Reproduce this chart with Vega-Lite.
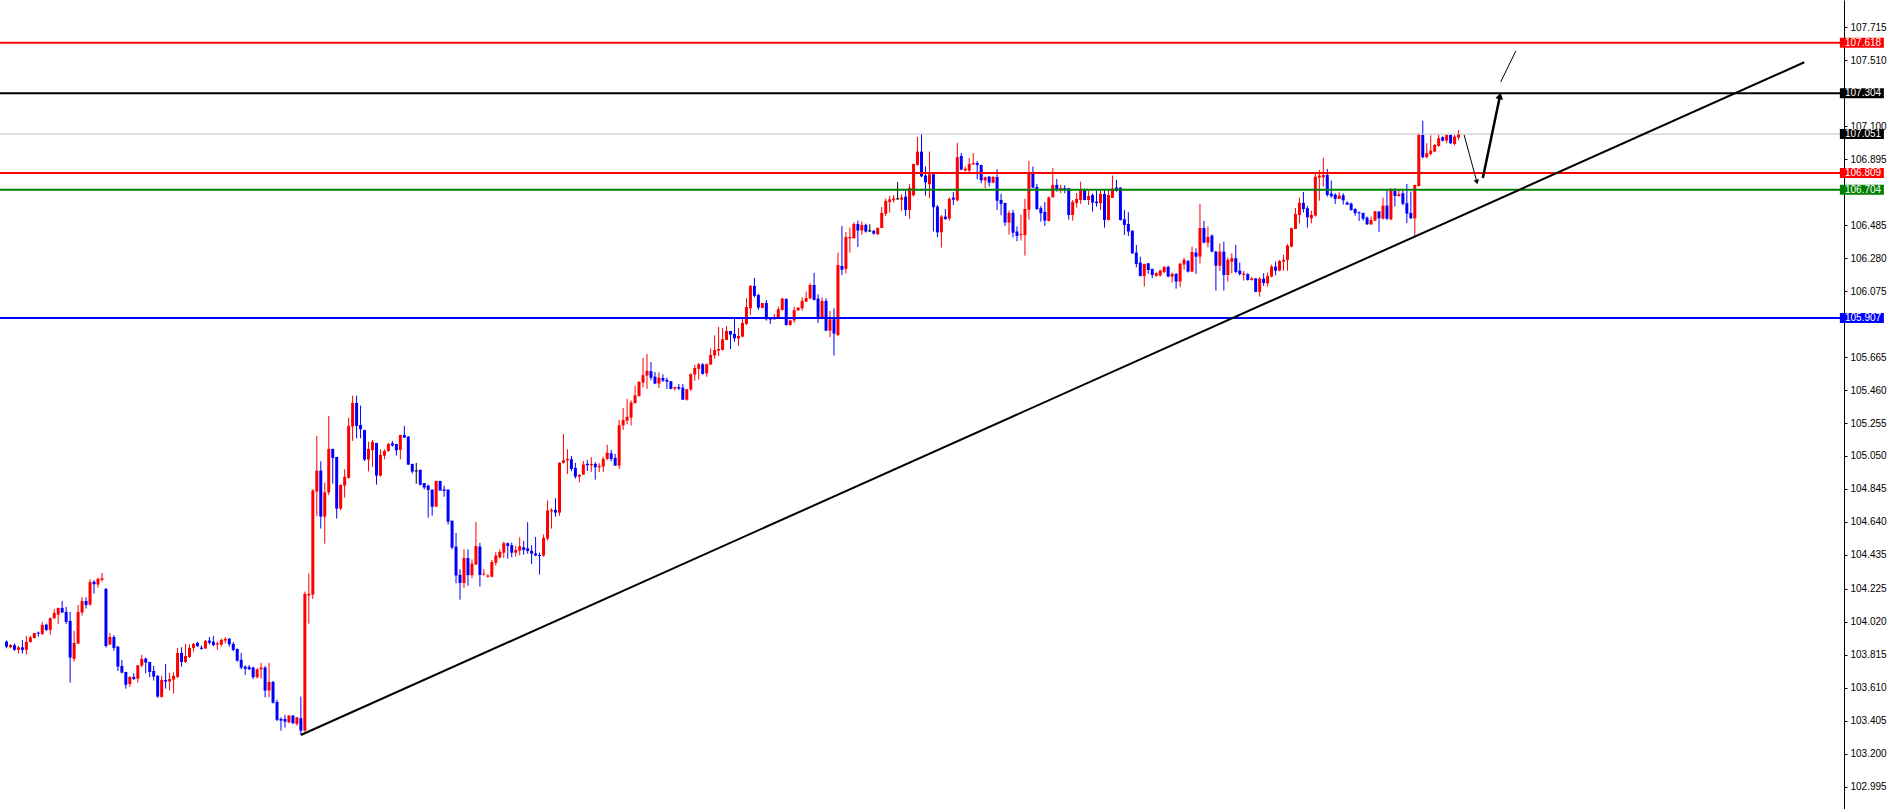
{
"$schema":"https://vega.github.io/schema/vega-lite/v6.json",
"width":1844,"height":809,"padding":{"left":0,"top":0,"right":45,"bottom":0},"autosize":{"type":"none"},
"background":"#ffffff",
"config":{"view":{"stroke":null},"axis":{"grid":false},
 "axisY":{"orient":"right","title":null,"format":".3f","domainColor":"#000000","domainWidth":1,"tickColor":"#000000","tickSize":3,"tickWidth":1,"labelColor":"#000000","labelFont":"Liberation Sans","labelFontSize":10,"labelPadding":3,"labelOverlap":false,"labelFlush":false,"grid":false,"zindex":0}},
"resolve":{"axis":{"y":"independent"}},
"datasets":{
"candles":[
{"i":0,"o":103.896,"h":103.903,"l":103.855,"c":103.865},
{"i":1,"o":103.861,"h":103.880,"l":103.855,"c":103.876},
{"i":2,"o":103.874,"h":103.886,"l":103.840,"c":103.845},
{"i":3,"o":103.845,"h":103.869,"l":103.822,"c":103.861},
{"i":4,"o":103.861,"h":103.907,"l":103.822,"c":103.845},
{"i":5,"o":103.845,"h":103.932,"l":103.816,"c":103.894},
{"i":6,"o":103.894,"h":103.932,"l":103.890,"c":103.923},
{"i":7,"o":103.919,"h":103.950,"l":103.915,"c":103.950},
{"i":8,"o":103.952,"h":103.959,"l":103.928,"c":103.946},
{"i":9,"o":103.944,"h":104.019,"l":103.938,"c":104.000},
{"i":10,"o":104.002,"h":104.008,"l":103.961,"c":103.969},
{"i":11,"o":103.969,"h":104.046,"l":103.940,"c":104.042},
{"i":12,"o":104.042,"h":104.100,"l":104.037,"c":104.075},
{"i":13,"o":104.064,"h":104.106,"l":104.006,"c":104.106},
{"i":14,"o":104.106,"h":104.149,"l":104.077,"c":104.077},
{"i":15,"o":104.081,"h":104.112,"l":104.006,"c":104.019},
{"i":16,"o":104.025,"h":104.081,"l":103.642,"c":103.797},
{"i":17,"o":103.789,"h":103.963,"l":103.772,"c":103.888},
{"i":18,"o":103.884,"h":104.124,"l":103.884,"c":104.081},
{"i":19,"o":104.077,"h":104.172,"l":104.058,"c":104.149},
{"i":20,"o":104.149,"h":104.172,"l":104.102,"c":104.124},
{"i":21,"o":104.126,"h":104.284,"l":104.120,"c":104.267},
{"i":22,"o":104.269,"h":104.278,"l":104.195,"c":104.253},
{"i":23,"o":104.251,"h":104.294,"l":104.232,"c":104.286},
{"i":24,"o":104.280,"h":104.323,"l":104.269,"c":104.290},
{"i":25,"o":104.224,"h":104.230,"l":103.859,"c":103.869},
{"i":26,"o":103.878,"h":103.950,"l":103.878,"c":103.925},
{"i":27,"o":103.925,"h":103.936,"l":103.840,"c":103.857},
{"i":28,"o":103.865,"h":103.869,"l":103.714,"c":103.741},
{"i":29,"o":103.745,"h":103.783,"l":103.698,"c":103.704},
{"i":30,"o":103.708,"h":103.708,"l":103.604,"c":103.629},
{"i":31,"o":103.633,"h":103.681,"l":103.615,"c":103.677},
{"i":32,"o":103.677,"h":103.700,"l":103.658,"c":103.664},
{"i":33,"o":103.666,"h":103.749,"l":103.642,"c":103.749},
{"i":34,"o":103.747,"h":103.814,"l":103.737,"c":103.789},
{"i":35,"o":103.791,"h":103.797,"l":103.700,"c":103.766},
{"i":36,"o":103.770,"h":103.770,"l":103.675,"c":103.708},
{"i":37,"o":103.714,"h":103.745,"l":103.654,"c":103.679},
{"i":38,"o":103.683,"h":103.689,"l":103.548,"c":103.555},
{"i":39,"o":103.553,"h":103.683,"l":103.548,"c":103.658},
{"i":40,"o":103.658,"h":103.758,"l":103.604,"c":103.648},
{"i":41,"o":103.648,"h":103.702,"l":103.592,"c":103.664},
{"i":42,"o":103.660,"h":103.706,"l":103.573,"c":103.683},
{"i":43,"o":103.677,"h":103.857,"l":103.669,"c":103.826},
{"i":44,"o":103.826,"h":103.861,"l":103.741,"c":103.770},
{"i":45,"o":103.770,"h":103.882,"l":103.764,"c":103.807},
{"i":46,"o":103.801,"h":103.878,"l":103.795,"c":103.857},
{"i":47,"o":103.857,"h":103.888,"l":103.834,"c":103.882},
{"i":48,"o":103.888,"h":103.896,"l":103.865,"c":103.867},
{"i":49,"o":103.859,"h":103.872,"l":103.847,"c":103.851},
{"i":50,"o":103.853,"h":103.907,"l":103.853,"c":103.901},
{"i":51,"o":103.903,"h":103.925,"l":103.878,"c":103.890},
{"i":52,"o":103.896,"h":103.932,"l":103.869,"c":103.874},
{"i":53,"o":103.878,"h":103.896,"l":103.845,"c":103.886},
{"i":54,"o":103.878,"h":103.915,"l":103.865,"c":103.907},
{"i":55,"o":103.903,"h":103.925,"l":103.886,"c":103.913},
{"i":56,"o":103.915,"h":103.917,"l":103.865,"c":103.880},
{"i":57,"o":103.882,"h":103.894,"l":103.838,"c":103.845},
{"i":58,"o":103.851,"h":103.853,"l":103.772,"c":103.778},
{"i":59,"o":103.783,"h":103.826,"l":103.724,"c":103.735},
{"i":60,"o":103.741,"h":103.749,"l":103.689,"c":103.727},
{"i":61,"o":103.739,"h":103.751,"l":103.720,"c":103.724},
{"i":62,"o":103.735,"h":103.741,"l":103.664,"c":103.675},
{"i":63,"o":103.675,"h":103.731,"l":103.666,"c":103.724},
{"i":64,"o":103.724,"h":103.764,"l":103.666,"c":103.735},
{"i":65,"o":103.735,"h":103.745,"l":103.550,"c":103.592},
{"i":66,"o":103.592,"h":103.764,"l":103.550,"c":103.646},
{"i":67,"o":103.646,"h":103.652,"l":103.511,"c":103.517},
{"i":68,"o":103.521,"h":103.534,"l":103.403,"c":103.410},
{"i":69,"o":103.416,"h":103.426,"l":103.343,"c":103.405},
{"i":70,"o":103.416,"h":103.441,"l":103.362,"c":103.399},
{"i":71,"o":103.395,"h":103.441,"l":103.389,"c":103.436},
{"i":72,"o":103.436,"h":103.441,"l":103.385,"c":103.389},
{"i":73,"o":103.385,"h":103.426,"l":103.374,"c":103.426},
{"i":74,"o":103.420,"h":103.555,"l":103.316,"c":103.343},
{"i":75,"o":103.343,"h":104.207,"l":103.337,"c":104.193},
{"i":76,"o":104.184,"h":104.319,"l":104.008,"c":104.193},
{"i":77,"o":104.189,"h":104.845,"l":104.162,"c":104.835},
{"i":78,"o":104.829,"h":105.175,"l":104.677,"c":104.959},
{"i":79,"o":104.959,"h":105.017,"l":104.599,"c":104.673},
{"i":80,"o":104.673,"h":104.885,"l":104.505,"c":104.824},
{"i":81,"o":104.824,"h":105.299,"l":104.806,"c":105.094},
{"i":82,"o":105.094,"h":105.094,"l":104.878,"c":105.038},
{"i":83,"o":105.044,"h":105.044,"l":104.661,"c":104.723},
{"i":84,"o":104.723,"h":104.874,"l":104.711,"c":104.870},
{"i":85,"o":104.866,"h":104.967,"l":104.791,"c":104.920},
{"i":86,"o":104.914,"h":105.289,"l":104.909,"c":105.237},
{"i":87,"o":105.233,"h":105.425,"l":105.144,"c":105.380},
{"i":88,"o":105.380,"h":105.425,"l":105.160,"c":105.237},
{"i":89,"o":105.243,"h":105.363,"l":105.160,"c":105.216},
{"i":90,"o":105.212,"h":105.212,"l":105.019,"c":105.028},
{"i":91,"o":105.028,"h":105.139,"l":104.953,"c":105.094},
{"i":92,"o":105.086,"h":105.150,"l":104.982,"c":105.137},
{"i":93,"o":105.131,"h":105.131,"l":104.872,"c":104.928},
{"i":94,"o":104.928,"h":105.092,"l":104.922,"c":105.057},
{"i":95,"o":105.052,"h":105.092,"l":105.030,"c":105.081},
{"i":96,"o":105.081,"h":105.131,"l":105.077,"c":105.125},
{"i":97,"o":105.129,"h":105.144,"l":105.108,"c":105.115},
{"i":98,"o":105.125,"h":105.125,"l":105.052,"c":105.086},
{"i":99,"o":105.088,"h":105.181,"l":105.030,"c":105.181},
{"i":100,"o":105.181,"h":105.237,"l":105.164,"c":105.164},
{"i":101,"o":105.170,"h":105.175,"l":104.996,"c":104.996},
{"i":102,"o":105.001,"h":105.001,"l":104.941,"c":104.953},
{"i":103,"o":104.957,"h":105.007,"l":104.878,"c":104.957},
{"i":104,"o":104.963,"h":104.967,"l":104.866,"c":104.872},
{"i":105,"o":104.882,"h":104.882,"l":104.843,"c":104.854},
{"i":106,"o":104.866,"h":104.872,"l":104.667,"c":104.839},
{"i":107,"o":104.841,"h":104.841,"l":104.679,"c":104.735},
{"i":108,"o":104.735,"h":104.895,"l":104.735,"c":104.895},
{"i":109,"o":104.895,"h":104.895,"l":104.835,"c":104.835},
{"i":110,"o":104.841,"h":104.866,"l":104.797,"c":104.837},
{"i":111,"o":104.841,"h":104.841,"l":104.624,"c":104.642},
{"i":112,"o":104.648,"h":104.648,"l":104.470,"c":104.481},
{"i":113,"o":104.487,"h":104.572,"l":104.259,"c":104.307},
{"i":114,"o":104.311,"h":104.346,"l":104.157,"c":104.261},
{"i":115,"o":104.261,"h":104.470,"l":104.230,"c":104.416},
{"i":116,"o":104.416,"h":104.470,"l":104.244,"c":104.309},
{"i":117,"o":104.309,"h":104.408,"l":104.290,"c":104.381},
{"i":118,"o":104.375,"h":104.640,"l":104.375,"c":104.491},
{"i":119,"o":104.487,"h":104.510,"l":104.238,"c":104.311},
{"i":120,"o":104.313,"h":104.346,"l":104.307,"c":104.319},
{"i":121,"o":104.300,"h":104.315,"l":104.294,"c":104.307},
{"i":122,"o":104.300,"h":104.404,"l":104.296,"c":104.391},
{"i":123,"o":104.387,"h":104.452,"l":104.369,"c":104.431},
{"i":124,"o":104.420,"h":104.470,"l":104.412,"c":104.454},
{"i":125,"o":104.449,"h":104.518,"l":104.416,"c":104.508},
{"i":126,"o":104.508,"h":104.512,"l":104.412,"c":104.491},
{"i":127,"o":104.495,"h":104.512,"l":104.420,"c":104.449},
{"i":128,"o":104.449,"h":104.491,"l":104.425,"c":104.466},
{"i":129,"o":104.462,"h":104.545,"l":104.433,"c":104.489},
{"i":130,"o":104.483,"h":104.522,"l":104.437,"c":104.466},
{"i":131,"o":104.476,"h":104.638,"l":104.443,"c":104.460},
{"i":132,"o":104.460,"h":104.495,"l":104.379,"c":104.443},
{"i":133,"o":104.445,"h":104.547,"l":104.427,"c":104.431},
{"i":134,"o":104.435,"h":104.449,"l":104.313,"c":104.431},
{"i":135,"o":104.431,"h":104.563,"l":104.425,"c":104.541},
{"i":136,"o":104.537,"h":104.773,"l":104.524,"c":104.711},
{"i":137,"o":104.706,"h":104.725,"l":104.599,"c":104.715},
{"i":138,"o":104.715,"h":104.787,"l":104.673,"c":104.698},
{"i":139,"o":104.698,"h":105.011,"l":104.679,"c":105.007},
{"i":140,"o":105.007,"h":105.187,"l":105.003,"c":105.023},
{"i":141,"o":105.023,"h":105.092,"l":104.938,"c":105.032},
{"i":142,"o":105.030,"h":105.050,"l":104.955,"c":104.969},
{"i":143,"o":104.976,"h":105.007,"l":104.909,"c":104.922},
{"i":144,"o":104.922,"h":104.938,"l":104.885,"c":104.932},
{"i":145,"o":104.934,"h":105.019,"l":104.934,"c":104.998},
{"i":146,"o":105.001,"h":105.025,"l":104.957,"c":104.992},
{"i":147,"o":104.992,"h":105.042,"l":104.951,"c":105.001},
{"i":148,"o":105.001,"h":105.011,"l":104.903,"c":104.980},
{"i":149,"o":104.980,"h":105.005,"l":104.951,"c":104.988},
{"i":150,"o":104.984,"h":105.046,"l":104.949,"c":105.032},
{"i":151,"o":105.032,"h":105.119,"l":105.025,"c":105.071},
{"i":152,"o":105.067,"h":105.088,"l":105.017,"c":105.032},
{"i":153,"o":105.038,"h":105.063,"l":104.988,"c":104.990},
{"i":154,"o":104.990,"h":105.274,"l":104.969,"c":105.241},
{"i":155,"o":105.241,"h":105.349,"l":105.212,"c":105.274},
{"i":156,"o":105.270,"h":105.405,"l":105.247,"c":105.293},
{"i":157,"o":105.289,"h":105.396,"l":105.239,"c":105.382},
{"i":158,"o":105.378,"h":105.485,"l":105.378,"c":105.427},
{"i":159,"o":105.423,"h":105.516,"l":105.419,"c":105.510},
{"i":160,"o":105.506,"h":105.659,"l":105.477,"c":105.552},
{"i":161,"o":105.550,"h":105.684,"l":105.467,"c":105.579},
{"i":162,"o":105.577,"h":105.634,"l":105.521,"c":105.537},
{"i":163,"o":105.543,"h":105.572,"l":105.496,"c":105.500},
{"i":164,"o":105.500,"h":105.570,"l":105.473,"c":105.537},
{"i":165,"o":105.535,"h":105.558,"l":105.510,"c":105.518},
{"i":166,"o":105.523,"h":105.537,"l":105.467,"c":105.512},
{"i":167,"o":105.514,"h":105.516,"l":105.465,"c":105.467},
{"i":168,"o":105.469,"h":105.479,"l":105.456,"c":105.479},
{"i":169,"o":105.479,"h":105.498,"l":105.460,"c":105.469},
{"i":170,"o":105.475,"h":105.498,"l":105.400,"c":105.400},
{"i":171,"o":105.400,"h":105.467,"l":105.394,"c":105.465},
{"i":172,"o":105.463,"h":105.564,"l":105.456,"c":105.558},
{"i":173,"o":105.556,"h":105.616,"l":105.518,"c":105.597},
{"i":174,"o":105.591,"h":105.628,"l":105.525,"c":105.620},
{"i":175,"o":105.620,"h":105.626,"l":105.556,"c":105.560},
{"i":176,"o":105.564,"h":105.624,"l":105.543,"c":105.620},
{"i":177,"o":105.618,"h":105.719,"l":105.618,"c":105.678},
{"i":178,"o":105.676,"h":105.800,"l":105.655,"c":105.709},
{"i":179,"o":105.705,"h":105.852,"l":105.672,"c":105.715},
{"i":180,"o":105.709,"h":105.846,"l":105.707,"c":105.775},
{"i":181,"o":105.771,"h":105.858,"l":105.771,"c":105.827},
{"i":182,"o":105.827,"h":105.827,"l":105.715,"c":105.804},
{"i":183,"o":105.809,"h":105.910,"l":105.761,"c":105.782},
{"i":184,"o":105.780,"h":105.846,"l":105.736,"c":105.796},
{"i":185,"o":105.792,"h":105.906,"l":105.788,"c":105.877},
{"i":186,"o":105.871,"h":106.030,"l":105.864,"c":105.976},
{"i":187,"o":105.968,"h":106.113,"l":105.927,"c":106.107},
{"i":188,"o":106.107,"h":106.157,"l":106.036,"c":106.045},
{"i":189,"o":106.051,"h":106.059,"l":105.958,"c":105.972},
{"i":190,"o":105.970,"h":106.001,"l":105.968,"c":106.001},
{"i":191,"o":106.001,"h":106.020,"l":105.891,"c":105.900},
{"i":192,"o":105.906,"h":105.914,"l":105.871,"c":105.898},
{"i":193,"o":105.900,"h":105.933,"l":105.896,"c":105.910},
{"i":194,"o":105.910,"h":105.978,"l":105.906,"c":105.962},
{"i":195,"o":105.958,"h":106.034,"l":105.954,"c":106.028},
{"i":196,"o":106.026,"h":106.030,"l":105.860,"c":105.864},
{"i":197,"o":105.864,"h":105.898,"l":105.860,"c":105.893},
{"i":198,"o":105.893,"h":105.978,"l":105.877,"c":105.956},
{"i":199,"o":105.956,"h":105.976,"l":105.951,"c":105.972},
{"i":200,"o":105.968,"h":106.036,"l":105.954,"c":106.014},
{"i":201,"o":106.010,"h":106.072,"l":106.007,"c":106.032},
{"i":202,"o":106.030,"h":106.123,"l":106.024,"c":106.113},
{"i":203,"o":106.113,"h":106.188,"l":106.016,"c":106.020},
{"i":204,"o":106.028,"h":106.055,"l":105.877,"c":105.906},
{"i":205,"o":105.904,"h":106.036,"l":105.900,"c":106.014},
{"i":206,"o":106.014,"h":106.030,"l":105.827,"c":105.829},
{"i":207,"o":105.829,"h":105.951,"l":105.788,"c":105.900},
{"i":208,"o":105.900,"h":105.968,"l":105.674,"c":105.811},
{"i":209,"o":105.802,"h":106.314,"l":105.794,"c":106.237},
{"i":210,"o":106.231,"h":106.480,"l":106.175,"c":106.208},
{"i":211,"o":106.213,"h":106.442,"l":106.184,"c":106.411},
{"i":212,"o":106.403,"h":106.469,"l":106.314,"c":106.411},
{"i":213,"o":106.403,"h":106.503,"l":106.401,"c":106.492},
{"i":214,"o":106.492,"h":106.513,"l":106.349,"c":106.451},
{"i":215,"o":106.451,"h":106.507,"l":106.424,"c":106.486},
{"i":216,"o":106.486,"h":106.494,"l":106.438,"c":106.445},
{"i":217,"o":106.449,"h":106.490,"l":106.442,"c":106.449},
{"i":218,"o":106.449,"h":106.455,"l":106.426,"c":106.432},
{"i":219,"o":106.428,"h":106.472,"l":106.424,"c":106.467},
{"i":220,"o":106.467,"h":106.598,"l":106.467,"c":106.561},
{"i":221,"o":106.556,"h":106.650,"l":106.542,"c":106.635},
{"i":222,"o":106.629,"h":106.666,"l":106.563,"c":106.645},
{"i":223,"o":106.639,"h":106.672,"l":106.625,"c":106.650},
{"i":224,"o":106.648,"h":106.753,"l":106.643,"c":106.648},
{"i":225,"o":106.643,"h":106.677,"l":106.575,"c":106.656},
{"i":226,"o":106.662,"h":106.697,"l":106.542,"c":106.579},
{"i":227,"o":106.579,"h":106.739,"l":106.523,"c":106.716},
{"i":228,"o":106.670,"h":106.865,"l":106.664,"c":106.865},
{"i":229,"o":106.859,"h":107.033,"l":106.855,"c":106.942},
{"i":230,"o":106.942,"h":107.052,"l":106.782,"c":106.788},
{"i":231,"o":106.793,"h":106.849,"l":106.668,"c":106.751},
{"i":232,"o":106.739,"h":106.942,"l":106.652,"c":106.801},
{"i":233,"o":106.801,"h":106.803,"l":106.445,"c":106.596},
{"i":234,"o":106.600,"h":106.610,"l":106.411,"c":106.440},
{"i":235,"o":106.440,"h":106.548,"l":106.345,"c":106.538},
{"i":236,"o":106.538,"h":106.585,"l":106.517,"c":106.523},
{"i":237,"o":106.525,"h":106.658,"l":106.513,"c":106.648},
{"i":238,"o":106.656,"h":106.691,"l":106.610,"c":106.643},
{"i":239,"o":106.639,"h":106.996,"l":106.633,"c":106.907},
{"i":240,"o":106.915,"h":106.933,"l":106.826,"c":106.830},
{"i":241,"o":106.824,"h":106.849,"l":106.818,"c":106.836},
{"i":242,"o":106.824,"h":106.902,"l":106.807,"c":106.865},
{"i":243,"o":106.863,"h":106.933,"l":106.859,"c":106.871},
{"i":244,"o":106.871,"h":106.884,"l":106.770,"c":106.859},
{"i":245,"o":106.859,"h":106.859,"l":106.745,"c":106.764},
{"i":246,"o":106.762,"h":106.786,"l":106.714,"c":106.782},
{"i":247,"o":106.786,"h":106.791,"l":106.724,"c":106.749},
{"i":248,"o":106.749,"h":106.791,"l":106.745,"c":106.784},
{"i":249,"o":106.784,"h":106.832,"l":106.579,"c":106.637},
{"i":250,"o":106.641,"h":106.679,"l":106.546,"c":106.617},
{"i":251,"o":106.623,"h":106.623,"l":106.480,"c":106.501},
{"i":252,"o":106.501,"h":106.575,"l":106.426,"c":106.561},
{"i":253,"o":106.561,"h":106.579,"l":106.409,"c":106.438},
{"i":254,"o":106.445,"h":106.476,"l":106.385,"c":106.418},
{"i":255,"o":106.424,"h":106.550,"l":106.389,"c":106.430},
{"i":256,"o":106.424,"h":106.648,"l":106.295,"c":106.585},
{"i":257,"o":106.581,"h":106.884,"l":106.519,"c":106.807},
{"i":258,"o":106.807,"h":106.849,"l":106.714,"c":106.718},
{"i":259,"o":106.722,"h":106.741,"l":106.579,"c":106.585},
{"i":260,"o":106.590,"h":106.604,"l":106.507,"c":106.559},
{"i":261,"o":106.567,"h":106.629,"l":106.480,"c":106.513},
{"i":262,"o":106.511,"h":106.662,"l":106.507,"c":106.658},
{"i":263,"o":106.658,"h":106.840,"l":106.656,"c":106.735},
{"i":264,"o":106.735,"h":106.772,"l":106.693,"c":106.708},
{"i":265,"o":106.710,"h":106.735,"l":106.683,"c":106.716},
{"i":266,"o":106.716,"h":106.733,"l":106.683,"c":106.710},
{"i":267,"o":106.714,"h":106.716,"l":106.519,"c":106.548},
{"i":268,"o":106.548,"h":106.641,"l":106.513,"c":106.629},
{"i":269,"o":106.623,"h":106.685,"l":106.594,"c":106.648},
{"i":270,"o":106.641,"h":106.755,"l":106.617,"c":106.704},
{"i":271,"o":106.708,"h":106.712,"l":106.639,"c":106.641},
{"i":272,"o":106.641,"h":106.699,"l":106.610,"c":106.666},
{"i":273,"o":106.672,"h":106.681,"l":106.569,"c":106.625},
{"i":274,"o":106.631,"h":106.701,"l":106.600,"c":106.621},
{"i":275,"o":106.621,"h":106.704,"l":106.579,"c":106.679},
{"i":276,"o":106.679,"h":106.704,"l":106.469,"c":106.517},
{"i":277,"o":106.517,"h":106.704,"l":106.513,"c":106.672},
{"i":278,"o":106.654,"h":106.793,"l":106.654,"c":106.712},
{"i":279,"o":106.718,"h":106.766,"l":106.693,"c":106.697},
{"i":280,"o":106.718,"h":106.720,"l":106.513,"c":106.517},
{"i":281,"o":106.521,"h":106.579,"l":106.424,"c":106.486},
{"i":282,"o":106.492,"h":106.565,"l":106.418,"c":106.445},
{"i":283,"o":106.451,"h":106.451,"l":106.306,"c":106.310},
{"i":284,"o":106.314,"h":106.362,"l":106.223,"c":106.244},
{"i":285,"o":106.252,"h":106.289,"l":106.165,"c":106.169},
{"i":286,"o":106.169,"h":106.244,"l":106.103,"c":106.244},
{"i":287,"o":106.248,"h":106.248,"l":106.182,"c":106.206},
{"i":288,"o":106.213,"h":106.213,"l":106.155,"c":106.175},
{"i":289,"o":106.169,"h":106.192,"l":106.165,"c":106.186},
{"i":290,"o":106.173,"h":106.208,"l":106.165,"c":106.202},
{"i":291,"o":106.194,"h":106.231,"l":106.186,"c":106.225},
{"i":292,"o":106.225,"h":106.233,"l":106.161,"c":106.165},
{"i":293,"o":106.165,"h":106.190,"l":106.128,"c":106.182},
{"i":294,"o":106.182,"h":106.186,"l":106.090,"c":106.134},
{"i":295,"o":106.134,"h":106.252,"l":106.099,"c":106.244},
{"i":296,"o":106.240,"h":106.283,"l":106.206,"c":106.269},
{"i":297,"o":106.262,"h":106.269,"l":106.190,"c":106.196},
{"i":298,"o":106.196,"h":106.351,"l":106.192,"c":106.318},
{"i":299,"o":106.314,"h":106.341,"l":106.182,"c":106.289},
{"i":300,"o":106.289,"h":106.617,"l":106.246,"c":106.467},
{"i":301,"o":106.467,"h":106.511,"l":106.372,"c":106.376},
{"i":302,"o":106.376,"h":106.476,"l":106.347,"c":106.411},
{"i":303,"o":106.420,"h":106.428,"l":106.316,"c":106.320},
{"i":304,"o":106.320,"h":106.324,"l":106.078,"c":106.233},
{"i":305,"o":106.233,"h":106.372,"l":106.200,"c":106.320},
{"i":306,"o":106.320,"h":106.382,"l":106.078,"c":106.175},
{"i":307,"o":106.175,"h":106.283,"l":106.134,"c":106.269},
{"i":308,"o":106.258,"h":106.310,"l":106.186,"c":106.279},
{"i":309,"o":106.279,"h":106.362,"l":106.186,"c":106.194},
{"i":310,"o":106.202,"h":106.252,"l":106.171,"c":106.181},
{"i":311,"o":106.175,"h":106.200,"l":106.140,"c":106.180},
{"i":312,"o":106.180,"h":106.186,"l":106.140,"c":106.144},
{"i":313,"o":106.144,"h":106.161,"l":106.140,"c":106.154},
{"i":314,"o":106.154,"h":106.154,"l":106.070,"c":106.070},
{"i":315,"o":106.070,"h":106.161,"l":106.041,"c":106.152},
{"i":316,"o":106.152,"h":106.186,"l":106.107,"c":106.125},
{"i":317,"o":106.123,"h":106.190,"l":106.103,"c":106.169},
{"i":318,"o":106.165,"h":106.239,"l":106.161,"c":106.227},
{"i":319,"o":106.227,"h":106.258,"l":106.173,"c":106.202},
{"i":320,"o":106.202,"h":106.269,"l":106.198,"c":106.262},
{"i":321,"o":106.258,"h":106.300,"l":106.202,"c":106.269},
{"i":322,"o":106.269,"h":106.366,"l":106.202,"c":106.358},
{"i":323,"o":106.351,"h":106.469,"l":106.347,"c":106.465},
{"i":324,"o":106.461,"h":106.592,"l":106.461,"c":106.554},
{"i":325,"o":106.548,"h":106.656,"l":106.496,"c":106.623},
{"i":326,"o":106.623,"h":106.691,"l":106.563,"c":106.585},
{"i":327,"o":106.590,"h":106.604,"l":106.469,"c":106.534},
{"i":328,"o":106.527,"h":106.575,"l":106.496,"c":106.548},
{"i":329,"o":106.544,"h":106.807,"l":106.538,"c":106.786},
{"i":330,"o":106.780,"h":106.828,"l":106.637,"c":106.793},
{"i":331,"o":106.782,"h":106.904,"l":106.724,"c":106.797},
{"i":332,"o":106.797,"h":106.834,"l":106.662,"c":106.672},
{"i":333,"o":106.681,"h":106.762,"l":106.656,"c":106.664},
{"i":334,"o":106.675,"h":106.683,"l":106.617,"c":106.648},
{"i":335,"o":106.648,"h":106.689,"l":106.648,"c":106.668},
{"i":336,"o":106.670,"h":106.683,"l":106.612,"c":106.639},
{"i":337,"o":106.625,"h":106.633,"l":106.612,"c":106.612},
{"i":338,"o":106.619,"h":106.625,"l":106.575,"c":106.579},
{"i":339,"o":106.585,"h":106.590,"l":106.544,"c":106.559},
{"i":340,"o":106.565,"h":106.569,"l":106.511,"c":106.559},
{"i":341,"o":106.561,"h":106.561,"l":106.513,"c":106.525},
{"i":342,"o":106.532,"h":106.538,"l":106.486,"c":106.490},
{"i":343,"o":106.490,"h":106.538,"l":106.486,"c":106.517},
{"i":344,"o":106.513,"h":106.573,"l":106.511,"c":106.571},
{"i":345,"o":106.569,"h":106.573,"l":106.443,"c":106.527},
{"i":346,"o":106.525,"h":106.656,"l":106.519,"c":106.606},
{"i":347,"o":106.606,"h":106.703,"l":106.517,"c":106.525},
{"i":348,"o":106.521,"h":106.714,"l":106.515,"c":106.710},
{"i":349,"o":106.697,"h":106.714,"l":106.600,"c":106.666},
{"i":350,"o":106.666,"h":106.701,"l":106.662,"c":106.677},
{"i":351,"o":106.683,"h":106.699,"l":106.608,"c":106.617},
{"i":352,"o":106.621,"h":106.741,"l":106.498,"c":106.556},
{"i":353,"o":106.561,"h":106.693,"l":106.525,"c":106.527},
{"i":354,"o":106.527,"h":106.735,"l":106.414,"c":106.735},
{"i":355,"o":106.728,"h":107.056,"l":106.724,"c":107.045},
{"i":356,"o":107.045,"h":107.134,"l":106.900,"c":106.907},
{"i":357,"o":106.907,"h":106.994,"l":106.900,"c":106.932},
{"i":358,"o":106.927,"h":107.043,"l":106.919,"c":106.948},
{"i":359,"o":106.942,"h":106.989,"l":106.938,"c":106.983},
{"i":360,"o":106.977,"h":107.047,"l":106.971,"c":107.025},
{"i":361,"o":107.031,"h":107.037,"l":107.004,"c":107.010},
{"i":362,"o":107.010,"h":107.047,"l":106.994,"c":107.045},
{"i":363,"o":107.045,"h":107.047,"l":106.989,"c":106.994},
{"i":364,"o":106.989,"h":107.045,"l":106.981,"c":107.035},
{"i":365,"o":107.029,"h":107.076,"l":107.012,"c":107.051}
],
"levels":[
{"p":107.618,"k":"r1","t":"107.618"},
{"p":107.304,"k":"k1","t":"107.304"},
{"p":107.051,"k":"cur","t":"107.051"},
{"p":106.809,"k":"r2","t":"106.809"},
{"p":106.704,"k":"g1","t":"106.704"},
{"p":105.907,"k":"b1","t":"105.907"}
],
"trend":[{"i":74,"p":103.316},{"i":451.9,"p":107.497}],
"segs":[
{"i":366.4,"p":107.045,"i2":369.6,"p2":106.753,"k":"thin"},
{"i":371.1,"p":106.778,"i2":375.4,"p2":107.288,"k":"thick"},
{"i":375.6,"p":107.375,"i2":379.4,"p2":107.568,"k":"thin"}
],
"headDown":[{"i":369.6,"p":106.753}],
"headUp":[{"i":375.4,"p":107.288}]
},
"layer":[
{"data":{"name":"candles"},"mark":{"type":"rule","strokeWidth":1},
 "encoding":{
  "x":{"field":"i","type":"quantitative","scale":{"domain":[-0.375,460.625],"nice":false,"zero":false},"axis":null},
  "y":{"field":"l","type":"quantitative","scale":{"domain":[102.856,107.884],"nice":false,"zero":false},
   "axis":{"orient":"right","title":null,"zindex":0,"values":[107.715,107.51,107.1,106.895,106.485,106.28,106.075,105.665,105.46,105.255,105.05,104.845,104.64,104.435,104.225,104.02,103.815,103.61,103.405,103.2,102.995],"format":".3f"}},
  "y2":{"field":"h"},
  "color":{"condition":[{"test":"datum.c > datum.o","value":"#ff0000"},{"test":"datum.c < datum.o","value":"#0000ff"}],"value":"#000000"}
 }},
{"data":{"name":"candles"},"mark":{"type":"bar","size":3,"opacity":1},
 "encoding":{
  "x":{"field":"i","type":"quantitative","scale":{"domain":[-0.375,460.625],"nice":false,"zero":false},"axis":null},
  "y":{"field":"o","type":"quantitative","scale":{"domain":[102.856,107.884],"nice":false,"zero":false},"axis":null},
  "y2":{"field":"c"},
  "color":{"condition":[{"test":"datum.c > datum.o","value":"#ff0000"},{"test":"datum.c < datum.o","value":"#0000ff"}],"value":"#000000"}
 }},
{"data":{"name":"candles"},"transform":[{"filter":"abs(datum.o - datum.c) < 0.006"}],
 "mark":{"type":"tick","orient":"horizontal","size":3,"thickness":1,"opacity":1},
 "encoding":{
  "x":{"field":"i","type":"quantitative","scale":{"domain":[-0.375,460.625],"nice":false,"zero":false},"axis":null},
  "y":{"field":"c","type":"quantitative","scale":{"domain":[102.856,107.884],"nice":false,"zero":false},"axis":null},
  "color":{"condition":[{"test":"datum.c > datum.o","value":"#ff0000"},{"test":"datum.c < datum.o","value":"#0000ff"}],"value":"#000000"}
 }},
{"data":{"name":"levels"},"mark":{"type":"rule"},
 "encoding":{
  "y":{"field":"p","type":"quantitative","scale":{"domain":[102.856,107.884],"nice":false,"zero":false},"axis":null},
  "stroke":{"field":"k","type":"nominal","legend":null,"scale":{"domain":["r1","k1","cur","r2","g1","b1"],"range":["#ff0000","#000000","#c0c0c0","#ff0000","#008000","#0000ff"]}},
  "strokeWidth":{"condition":{"test":"datum.k == 'cur'","value":1},"value":2}
 }},
{"data":{"name":"trend"},"mark":{"type":"line","stroke":"#000000","strokeWidth":2},
 "encoding":{
  "x":{"field":"i","type":"quantitative","scale":{"domain":[-0.375,460.625],"nice":false,"zero":false},"axis":null},
  "y":{"field":"p","type":"quantitative","scale":{"domain":[102.856,107.884],"nice":false,"zero":false},"axis":null}
 }},
{"data":{"name":"segs"},"mark":{"type":"rule","stroke":"#000000"},
 "encoding":{
  "x":{"field":"i","type":"quantitative","scale":{"domain":[-0.375,460.625],"nice":false,"zero":false},"axis":null},
  "x2":{"field":"i2"},
  "y":{"field":"p","type":"quantitative","scale":{"domain":[102.856,107.884],"nice":false,"zero":false},"axis":null},
  "y2":{"field":"p2"},
  "strokeWidth":{"condition":{"test":"datum.k == 'thick'","value":2.5},"value":1}
 }},
{"data":{"name":"headDown"},"mark":{"type":"point","shape":"triangle-down","filled":true,"fill":"#000000","stroke":null,"size":30,"angle":345,"opacity":1},
 "encoding":{
  "x":{"field":"i","type":"quantitative","scale":{"domain":[-0.375,460.625],"nice":false,"zero":false},"axis":null},
  "y":{"field":"p","type":"quantitative","scale":{"domain":[102.856,107.884],"nice":false,"zero":false},"axis":null}
 }},
{"data":{"name":"headUp"},"mark":{"type":"point","shape":"triangle-up","filled":true,"fill":"#000000","stroke":null,"size":60,"angle":12,"opacity":1},
 "encoding":{
  "x":{"field":"i","type":"quantitative","scale":{"domain":[-0.375,460.625],"nice":false,"zero":false},"axis":null},
  "y":{"field":"p","type":"quantitative","scale":{"domain":[102.856,107.884],"nice":false,"zero":false},"axis":null}
 }},
{"data":{"name":"levels"},"mark":{"type":"tick","orient":"horizontal","size":44,"thickness":10,"opacity":1,"clip":false},
 "encoding":{
  "x":{"datum":466.375,"type":"quantitative","scale":{"domain":[-0.375,460.625],"nice":false,"zero":false},"axis":null},
  "y":{"field":"p","type":"quantitative","scale":{"domain":[102.856,107.884],"nice":false,"zero":false},"axis":null},
  "fill":{"field":"k","type":"nominal","legend":null,"scale":{"domain":["r1","k1","cur","r2","g1","b1"],"range":["#ff0000","#000000","#000000","#ff0000","#008000","#0000ff"]}}
 }},
{"data":{"name":"levels"},"mark":{"type":"text","align":"left","baseline":"middle","fill":"#ffffff","font":"Liberation Sans","fontSize":10,"clip":false},
 "encoding":{
  "x":{"datum":462.125,"type":"quantitative","scale":{"domain":[-0.375,460.625],"nice":false,"zero":false},"axis":null},
  "y":{"field":"p","type":"quantitative","scale":{"domain":[102.856,107.884],"nice":false,"zero":false},"axis":null},
  "text":{"field":"t","type":"nominal"}
 }}
]
}
